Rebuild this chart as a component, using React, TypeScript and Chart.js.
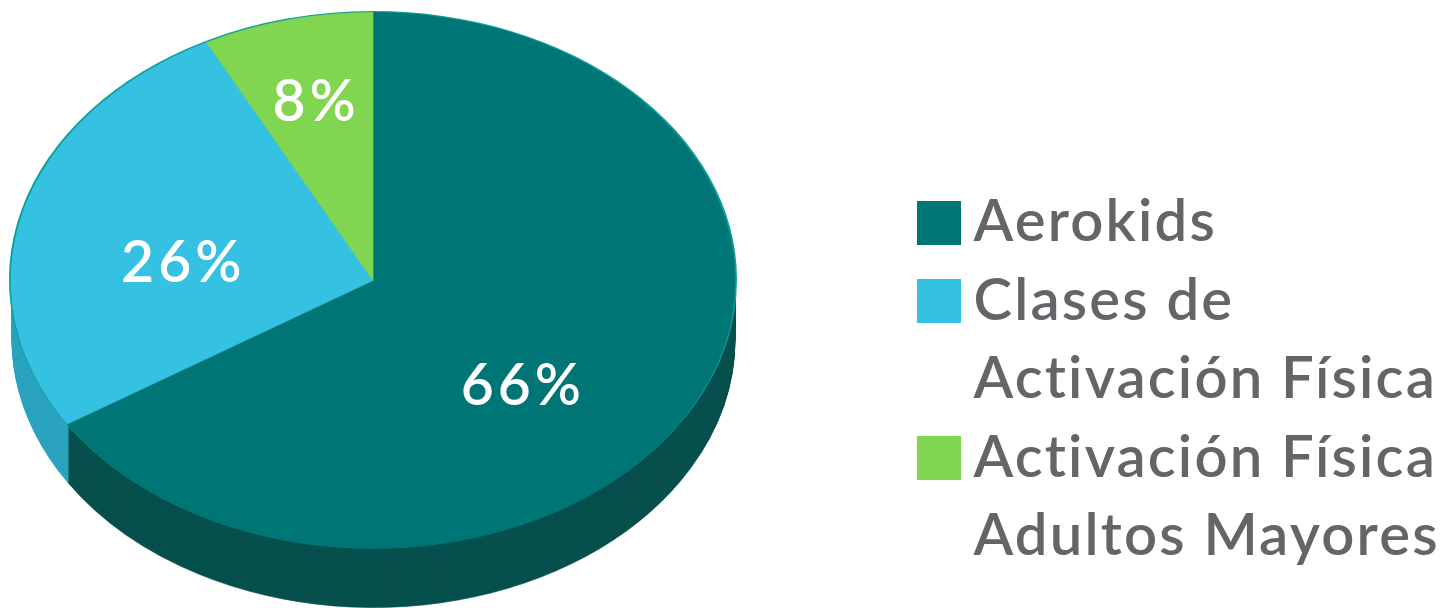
import React, { useEffect, useRef } from "react";
import { Chart, registerables } from "chart.js";

Chart.register(...registerables);

const categories = ["Aerokids", "Clases de Activación Física", "Activación Física Adultos Mayores"];
const legendLines = [["Aerokids"], ["Clases de", "Activación Física"], ["Activación Física", "Adultos Mayores"]];
const values = [66, 26.4, 7.6];
const topColors = ["#007575", "#35C1E1", "#80D650"];
const sideColors = ["#064F4D", "#2AA3BF", "#6AB343"];
const rimColor = "#0E9E9B";
const labelShift = [[0.47, 0.8], [0.54, 0.27], [0.66, 0.69]];

const pieCenter = { x: 373, y: 280 };
const pieFace = { rx: 362, ry: 268 };
const pieRim = { rx: 364, ry: 268.5 };
const depth = 59;

function paint(ctx: any, arcs: any[], colors: string[], cx: number, cy: number, rx: number, ry: number, border: number) {
  const a0 = arcs[0];
  const r = a0.outerRadius;
  ctx.save();
  ctx.translate(cx, cy);
  ctx.scale(rx / r, ry / r);
  ctx.translate(-a0.x, -a0.y);
  arcs.forEach((arc: any, i: number) => {
    const saved = arc.options;
    arc.options = Object.create(saved, {
      backgroundColor: { value: colors[i] },
      borderColor: { value: colors[i] },
      borderWidth: { value: border },
    });
    arc.draw(ctx);
    arc.options = saved;
  });
  ctx.restore();
}

const swatch = (color: string) => {
  const c = document.createElement("canvas");
  c.width = 44;
  c.height = 44;
  const g = c.getContext("2d")!;
  g.fillStyle = color;
  g.fillRect(0, 0, 44, 44);
  return c;
};

const pie3d = {
  id: "pie3d",
  beforeLayout(chart: any) {
    chart.ctx.letterSpacing = "2.2px";
  },
  afterLayout(chart: any) {
    // the swatches reach past the legend's left edge: paint it without its clip box
    chart.legend.draw = function () {
      this._draw();
    };
  },
  beforeDatasetsDraw(chart: any) {
    const ctx = chart.ctx;
    const arcs = chart.getDatasetMeta(0).data;
    for (let d = depth; d > 0; d--) {
      paint(ctx, arcs, sideColors, pieCenter.x + 0.5, pieCenter.y + 0.5 + d, pieFace.rx - 0.5, pieFace.ry, 0.6);
    }
    paint(ctx, arcs, [rimColor, rimColor, rimColor], pieCenter.x, pieCenter.y - 0.5, pieRim.rx, pieRim.ry, 0);
    paint(ctx, arcs, topColors, pieCenter.x, pieCenter.y + 0.5, pieFace.rx, pieFace.ry, 0.6);
    return false;
  },
  afterDraw(chart: any) {
    const ctx = chart.ctx;
    const arcs = chart.getDatasetMeta(0).data;
    ctx.save();
    ctx.fillStyle = "#FFFFFF";
    ctx.font = "600 57px Lato";
    ctx.letterSpacing = "4px";
    ctx.textAlign = "center";
    ctx.textBaseline = "middle";
    arcs.forEach((arc: any, i: number) => {
      const mid = (arc.startAngle + arc.endAngle) / 2;
      const x = pieCenter.x + Math.cos(mid) * pieRim.rx * labelShift[i][0];
      const y = pieCenter.y + Math.sin(mid) * pieRim.ry * labelShift[i][1] + 3;
      ctx.fillText(Math.round(values[i]) + "%", x, y);
    });
    ctx.restore();
  },
};

export default function App() {
  const ref = useRef<HTMLCanvasElement>(null);
  useEffect(() => {
    const chart = new Chart(ref.current!, {
      type: "pie",
      data: {
        labels: categories,
        datasets: [{
          data: values,
          backgroundColor: topColors,
          borderWidth: 0,
        }],
      },
      options: {
        animation: false,
        responsive: false,
        layout: { padding: { left: 0, top: 11, bottom: 22, right: 8 } },
        plugins: {
          tooltip: { enabled: false },
          legend: {
            position: "right",
            align: "end",
            labels: {
              usePointStyle: true,
              pointStyleWidth: 10,
              boxHeight: 44,
              color: "#636568",
              padding: 0,
              font: { family: "Lato", size: 58, weight: "600", lineHeight: "78.5px" },
              generateLabels: () => legendLines.map((text, i) => ({
                text, fillStyle: topColors[i], strokeStyle: topColors[i], lineWidth: 0,
                fontColor: "#636568",
                pointStyle: swatch(topColors[i]), index: i, hidden: false,
              })) as any,
            },
          },
        },
      },
      plugins: [pie3d],
    });
    return () => chart.destroy();
  }, []);
  return (
    <canvas ref={ref} width={1455} height={608}
      style={{ position: "absolute", left: 0, top: 0, width: 1455, height: 608 }} />
  );
}
